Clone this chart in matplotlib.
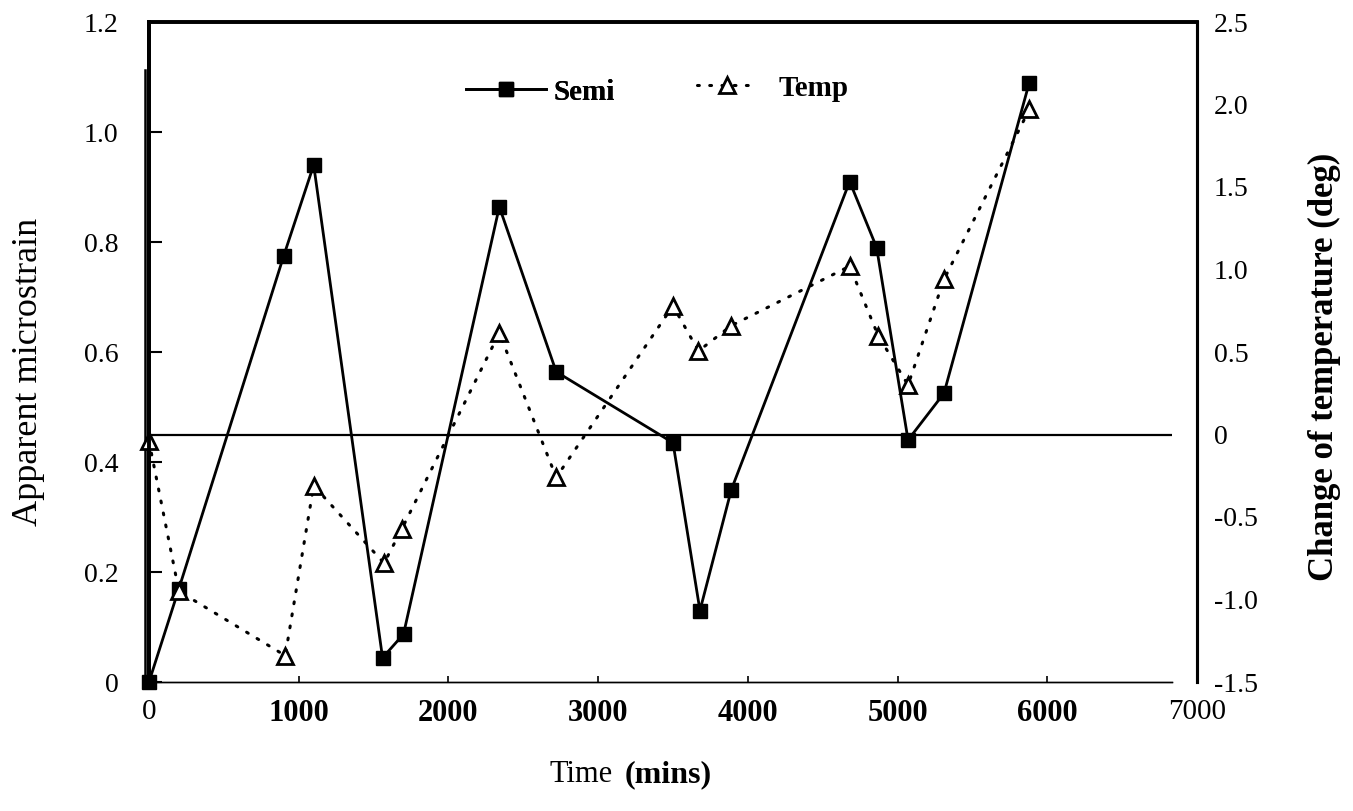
import matplotlib
matplotlib.use("Agg")
import matplotlib.pyplot as plt

# ---- data ----
semi_time = [0, 200, 900, 1100, 1560, 1700, 2340, 2720, 3500, 3680, 3890, 4680, 4860, 5070, 5310, 5880]
semi_strain = [0.0, 0.17, 0.775, 0.94, 0.044, 0.087, 0.864, 0.564, 0.435, 0.13, 0.35, 0.91, 0.79, 0.44, 0.525, 1.09]

temp_time = [0, 200, 910, 1100, 1570, 1690, 2340, 2720, 3500, 3670, 3890, 4680, 4870, 5070, 5310, 5880]
temp_change = [-0.04, -0.95, -1.34, -0.31, -0.78, -0.57, 0.615, -0.26, 0.78, 0.506, 0.66, 1.02, 0.60, 0.30, 0.94, 1.97]

x_ticks = [0, 1000, 2000, 3000, 4000, 5000, 6000, 7000]
x_ticklabels = ["0", "1000", "2000", "3000", "4000", "5000", "6000", "7000"]
left_ticks = [0, 0.2, 0.4, 0.6, 0.8, 1.0, 1.2]
left_ticklabels = ["0", "0.2", "0.4", "0.6", "0.8", "1.0", "1.2"]
right_ticks = [-1.5, -1.0, -0.5, 0, 0.5, 1.0, 1.5, 2.0, 2.5]
right_ticklabels = ["-1.5", "-1.0", "-0.5", "0", "0.5", "1.0", "1.5", "2.0", "2.5"]

W, H = 1353, 811
SERIF = ["Liberation Serif", "DejaVu Serif"]
plt.rcParams["font.family"] = SERIF

fig = plt.figure(figsize=(W / 100, H / 100), dpi=100)
ax = fig.add_axes([149 / W, 1 - 682 / H, (1197 - 149) / W, (682 - 22) / H])
ax2 = ax.twinx()

ax.set_xlim(0, 7000)
ax.set_ylim(0, 1.2)
ax2.set_ylim(-1.5, 2.5)

# spines
for a in (ax, ax2):
    a.spines["top"].set_linewidth(2.6)
    a.spines["left"].set_linewidth(2.8)
    a.spines["right"].set_linewidth(2.2)
    a.spines["bottom"].set_linewidth(1.0)
    a.spines["bottom"].set_bounds(0, 6830)

# semi series
semi_line, = ax.plot(semi_time, semi_strain, color="black", lw=2.0,
                     marker="s", markersize=10.5, markerfacecolor="black",
                     markeredgecolor="black", zorder=3, clip_on=False)

# temperature series
temp_line, = ax2.plot(temp_time, temp_change, color="black", lw=2.2,
                      linestyle=(0, (0.6, 3.4)), dash_capstyle="round",
                      marker="^", markersize=12, markerfacecolor="white",
                      markeredgecolor="black", markeredgewidth=2.0,
                      zorder=2, clip_on=False)

# zero-temperature reference line
ax2.hlines(0, 0, 6830, color="black", lw=1.6, zorder=1)

# extra vertical line next to left axis (as in the original drawing)
ax.plot([-0.004, -0.004], [0, 0.927], transform=ax.transAxes, color="black",
        lw=1.8, clip_on=False)

# ticks
ax.set_xticks(x_ticks)
ax.set_xticklabels(x_ticklabels)
ax.set_yticks(left_ticks)
ax.set_yticklabels(left_ticklabels)
ax.tick_params(axis="y", direction="in", length=9, width=1.5, pad=22,
               labelsize=20)
ax.tick_params(axis="x", direction="in", length=4, width=1.2, pad=12,
               labelsize=22)
for lbl in ax.get_xticklabels():
    if lbl.get_text() not in ("0", "7000"):
        lbl.set_fontweight("bold")
    else:
        lbl.set_fontsize(21)

ax2.set_yticks(right_ticks)
ax2.set_yticklabels(right_ticklabels)
ax2.tick_params(axis="y", direction="in", length=0, pad=12, labelsize=20)

# axis labels
fig.text(29 / W, 1 - 372 / H, "Apparent microstrain", rotation=90,
         ha="center", va="center", fontsize=26, family=SERIF)
fig.text(1324 / W, 1 - 367 / H, "Change of temperature (deg)", rotation=90,
         ha="center", va="center", fontsize=25, fontweight="bold", family=SERIF)
fig.text(613 / W, 1 - 775 / H, "Time", ha="right", va="center",
         fontsize=22, family=SERIF)
fig.text(625 / W, 1 - 775 / H, "(mins)", ha="left", va="center",
         fontsize=23, fontweight="bold", family=SERIF)

# legends
fs = 21
leg1 = ax.legend(handles=[semi_line], labels=["Semi"], loc="center left",
                 bbox_to_anchor=(466 / W, 1 - 92 / H),
                 bbox_transform=fig.transFigure, frameon=False,
                 handlelength=80 / (fs * 100 / 72), handletextpad=0.25,
                 borderpad=0, borderaxespad=0, numpoints=1,
                 prop={"family": SERIF, "weight": "bold", "size": fs})
ax.add_artist(leg1)
leg2 = ax2.legend(handles=[temp_line], labels=["Temp"], loc="center left",
                  bbox_to_anchor=(697 / W, 1 - 88 / H),
                  bbox_transform=fig.transFigure, frameon=False,
                  handlelength=60 / (fs * 100 / 72), handletextpad=0.75,
                  borderpad=0, borderaxespad=0, numpoints=1,
                  prop={"family": SERIF, "weight": "bold", "size": fs})

fig.savefig("out.png", dpi=100)
